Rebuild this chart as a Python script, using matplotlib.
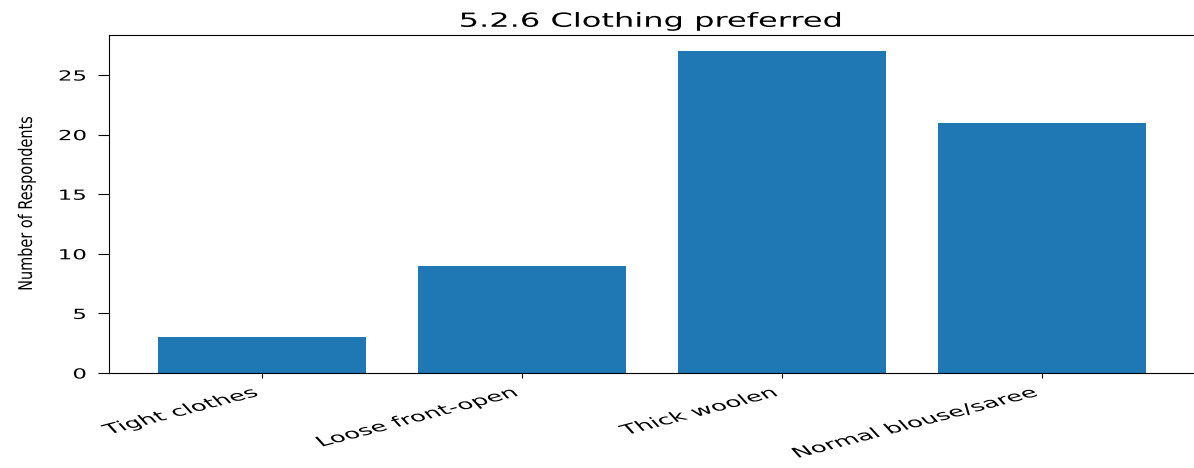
import matplotlib
matplotlib.use("Agg")
import matplotlib.pyplot as plt
from matplotlib.patheffects import AbstractPathEffect
from matplotlib.transforms import Affine2D

categories = ["Tight clothes", "Loose front-open", "Thick woolen", "Normal blouse/saree"]
values = [3, 9, 27, 21]
yticks = [0, 5, 10, 15, 20, 25]
title = "5.2.6 Clothing preferred"
ylabel = "Number of Respondents"

SX = 1.65   # horizontal stretch of the reference image's text
SX_X = 1.88  # stretch of the category labels


class HStretch(AbstractPathEffect):
    """Stretch a text horizontally about its anchor point."""
    def __init__(self, text, sx):
        super().__init__()
        self.text = text
        self.sx = sx

    def draw_path(self, renderer, gc, tpath, affine, rgbFace=None):
        x, y = self.text.get_transform().transform(self.text.get_unitless_position())
        extra = Affine2D().translate(-x, 0).scale(self.sx, 1).translate(x, 0)
        renderer.draw_path(gc, tpath, affine + extra, rgbFace)


fig = plt.figure(figsize=(11.94, 4.68), dpi=100)
ax = fig.add_axes([0.0913, 0.203, 0.9095, 0.722])
ax.bar(categories, values, color="#1f77b4", width=0.8)
t = ax.set_title(title, fontsize=14)
yl = ax.set_ylabel(ylabel, fontsize=10.4, labelpad=24)
ax.set_yticks(yticks)
ax.tick_params(axis="y", labelsize=10, length=8, pad=8)
ax.tick_params(axis="x", labelsize=10, pad=5.5)
plt.setp(ax.get_xticklabels(), rotation=26, ha="right")

t.set_path_effects([HStretch(t, SX)])
yl.set_path_effects([HStretch(yl, 1.3)])
for tx in ax.get_yticklabels():
    tx.set_path_effects([HStretch(tx, SX)])
for tx in ax.get_xticklabels():
    tx.set_path_effects([HStretch(tx, SX_X)])

fig.savefig("out.png", dpi=100)
